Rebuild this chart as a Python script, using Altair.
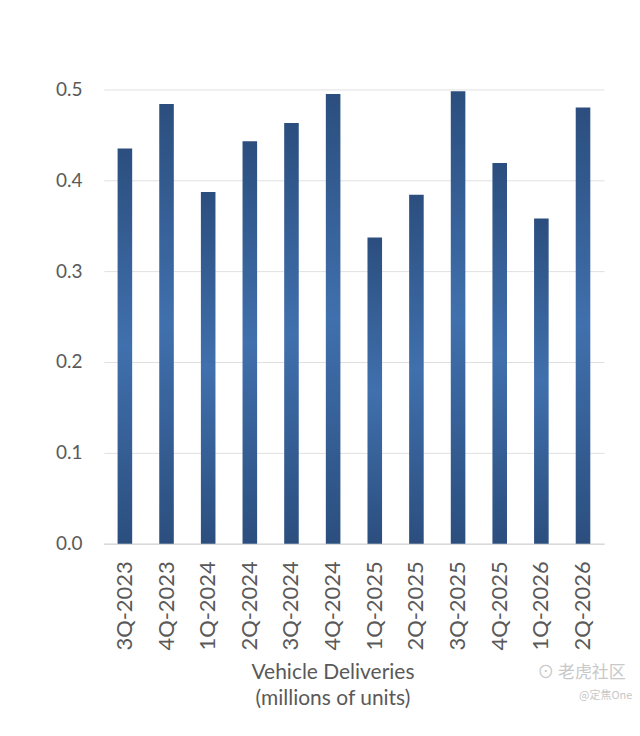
import altair as alt
import pandas as pd

quarters = ["3Q-2023", "4Q-2023", "1Q-2024", "2Q-2024", "3Q-2024", "4Q-2024",
            "1Q-2025", "2Q-2025", "3Q-2025", "4Q-2025", "1Q-2026", "2Q-2026"]
deliveries = [0.435, 0.484, 0.387, 0.443, 0.463, 0.495,
              0.337, 0.384, 0.498, 0.419, 0.358, 0.480]

watermark_texts = ["\u2299 老虎社区", "@定焦One"]

df = pd.DataFrame({"quarter": quarters, "value": deliveries})

FONT = "Lato"
GRAY = "#595959"

bars = alt.Chart(df).mark_bar(
    color=alt.Gradient(
        gradient="linear",
        stops=[
            alt.GradientStop(color="#2b4e7e", offset=0),
            alt.GradientStop(color="#4070ad", offset=0.5),
            alt.GradientStop(color="#2b4e7e", offset=1),
        ],
        x1=0, x2=0, y1=0, y2=1,
    )
).encode(
    x=alt.X("quarter:N", sort=quarters,
            scale=alt.Scale(paddingInner=0.65, paddingOuter=0.33),
            axis=alt.Axis(
                title=["Vehicle Deliveries", "(millions of units)"],
                titleFont=FONT, titleFontSize=21, titleFontWeight="normal",
                titleColor=GRAY, titleLineHeight=26,
                titleX=229, titleY=118, titleAlign="center", titleBaseline="top",
                labelAngle=-90, labelFont=FONT, labelFontSize=22, labelColor=GRAY,
                labelPadding=17, ticks=False, domain=True, domainColor="#d9d9d9",
                domainWidth=1.5)),
    y=alt.Y("value:Q", scale=alt.Scale(domain=[0, 0.5]),
            axis=alt.Axis(title=None, values=[0, 0.1, 0.2, 0.3, 0.4, 0.5],
                          format=".1f", labelFont=FONT, labelFontSize=19,
                          labelColor=GRAY, labelPadding=22, ticks=False,
                          domain=False, gridColor="#e0e0e0", gridWidth=1)),
)

wm1 = alt.Chart(pd.DataFrame({"t": [watermark_texts[0]]})).mark_text(
    font="Noto Sans CJK SC", color="#c8c8c8", align="left", baseline="middle",
    fontSize=17
).encode(text="t:N", x=alt.value(434), y=alt.value(584))

wm2 = alt.Chart(pd.DataFrame({"t": [watermark_texts[1]]})).mark_text(
    font="Noto Sans CJK SC", color="#c8c8c8", align="left", baseline="middle",
    fontSize=11
).encode(text="t:N", x=alt.value(476), y=alt.value(608))

chart = alt.layer(bars, wm1, wm2).properties(
    width=501, height=455,
    background="white",
    autosize=alt.AutoSizeParams(type="none"),
    padding={"left": 96, "top": 81, "right": 28, "bottom": 180},
).configure_view(stroke=None)

chart.save("out.html", embed_options={"renderer": "svg", "actions": False})
